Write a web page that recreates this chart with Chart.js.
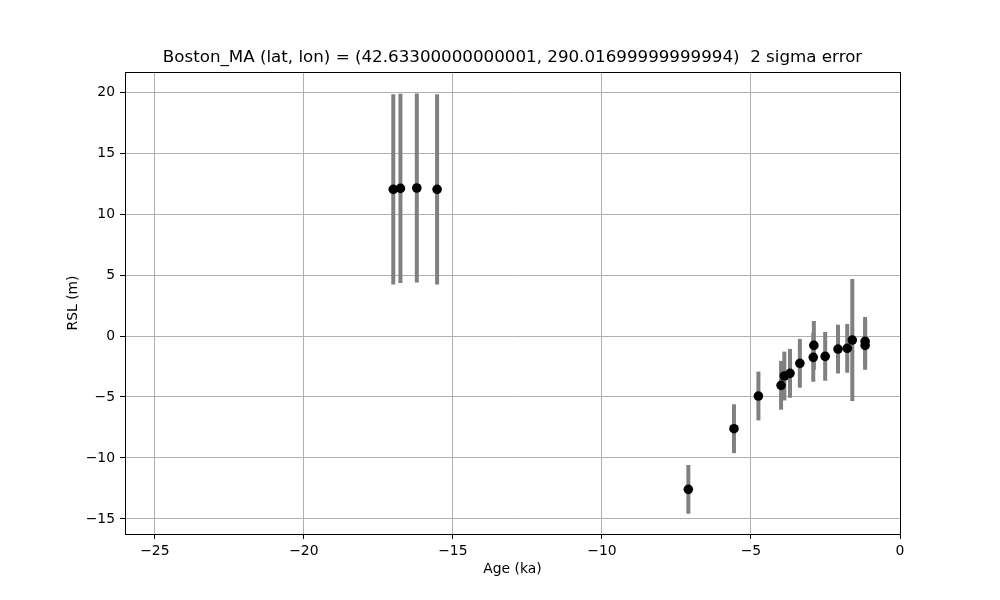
<!DOCTYPE html>
<html>
<head>
<meta charset="utf-8">
<script src="https://cdn.jsdelivr.net/npm/chart.js@4.4.1/dist/chart.umd.min.js"></script>
<style>
  html, body { margin: 0; padding: 0; background: #fff; }
  #wrap { width: 1000px; height: 600px; }
</style>
</head>
<body>
<div id="wrap"><canvas id="rsl" width="1000" height="600"></canvas></div>
<script>
// data: age (ka), RSL (m), 2 sigma error (m)
const ages = [-17.0, -16.76, -16.21, -15.53, -7.1, -5.57, -4.75, -3.99, -3.88, -3.69, -3.36, -2.89, -2.91, -2.51, -2.08, -1.77, -1.6, -1.17, -1.17];
const rsl  = [12.02, 12.1, 12.13, 12.02, -12.57, -7.6, -4.92, -4.04, -3.28, -3.06, -2.24, -0.77, -1.75, -1.67, -1.07, -1.01, -0.33, -0.44, -0.77];
const err  = [7.8, 7.75, 7.75, 7.8, 2.0, 2.0, 2.0, 2.0, 2.0, 2.0, 2.0, 2.0, 2.0, 2.0, 2.0, 2.0, 5.0, 2.0, 2.0];

const titleText = 'Boston_MA (lat, lon) = (42.63300000000001, 290.01699999999994)  2 sigma error';
const xLabel = 'Age (ka)';
const yLabel = 'RSL (m)';

const font = 'DejaVu Sans, sans-serif';

const points = ages.map((a, i) => ({ x: a, y: rsl[i] }));

// matplotlib style minus sign
const fmt = v => (v < 0 ? '\u2212' + Math.abs(v) : String(v));

// error bars + frame + texts
const extras = {
  id: 'extras',
  beforeDatasetsDraw(chart) {
    const ctx = chart.ctx;
    const xs = chart.scales.x, ys = chart.scales.y;
    ctx.save();
    ctx.strokeStyle = '#808080';
    ctx.lineWidth = 4;
    ctx.lineCap = 'butt';
    for (let i = 0; i < ages.length; i++) {
      const px = xs.getPixelForValue(ages[i]);
      ctx.beginPath();
      ctx.moveTo(px, ys.getPixelForValue(rsl[i] - err[i]));
      ctx.lineTo(px, ys.getPixelForValue(rsl[i] + err[i]));
      ctx.stroke();
    }
    ctx.restore();
  },
  afterDraw(chart) {
    const ctx = chart.ctx;
    const a = chart.chartArea;
    ctx.save();
    ctx.strokeStyle = '#000';
    ctx.lineWidth = 1;
    ctx.strokeRect(Math.round(a.left) + 0.5, Math.round(a.top) + 0.5,
                   Math.round(a.right - a.left), Math.round(a.bottom - a.top));
    ctx.fillStyle = '#000';
    ctx.textAlign = 'center';
    ctx.textBaseline = 'middle';
    const cx = (a.left + a.right) / 2;
    ctx.font = '16.7px ' + font;
    ctx.fillText(titleText, cx, 58);
    ctx.font = '13.9px ' + font;
    ctx.fillText(xLabel, cx, 569);
    ctx.translate(73, (a.top + a.bottom) / 2);
    ctx.rotate(-Math.PI / 2);
    ctx.fillText(yLabel, 0, 0);
    ctx.restore();
  }
};

new Chart(document.getElementById('rsl'), {
  type: 'scatter',
  data: {
    datasets: [{
      data: points,
      backgroundColor: '#000',
      borderWidth: 0,
      pointRadius: 4.8,
      pointHoverRadius: 4.8
    }]
  },
  options: {
    responsive: false,
    animation: false,
    layout: { padding: { left: 55, right: 100, top: 72, bottom: 0 } },
    plugins: { legend: { display: false }, title: { display: false }, tooltip: { enabled: false } },
    scales: {
      x: {
        type: 'linear',
        min: -26, max: 0,
        afterFit(s) { s.height = 66; },
        border: { display: false },
        grid: { color: '#b0b0b0', lineWidth: 1, tickColor: '#000', tickLength: 5 },
        ticks: { stepSize: 5, includeBounds: false, color: '#000', padding: 4, maxRotation: 0,
                 font: { family: font, size: 13.9 }, callback: fmt }
      },
      y: {
        type: 'linear',
        min: -16.23, max: 21.64,
        afterFit(s) { s.width = 70; },
        border: { display: false },
        grid: { color: '#b0b0b0', lineWidth: 1, tickColor: '#000', tickLength: 5 },
        ticks: { stepSize: 5, includeBounds: false, color: '#000', padding: 5,
                 font: { family: font, size: 13.9 }, callback: fmt }
      }
    }
  },
  plugins: [extras]
});
</script>
</body>
</html>
